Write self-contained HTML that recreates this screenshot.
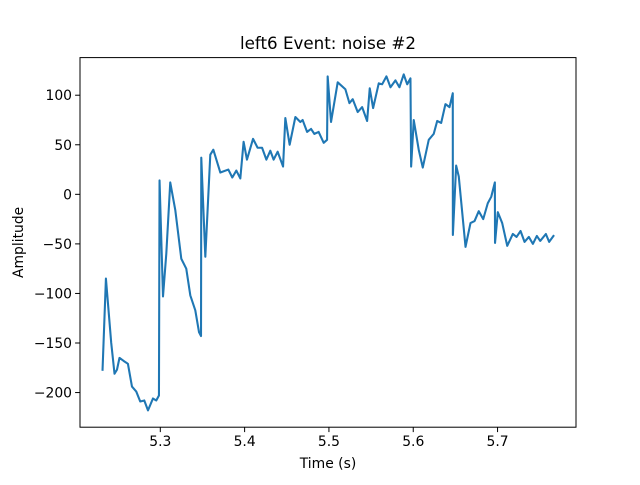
<!DOCTYPE html>
<html><head><meta charset="utf-8"><style>
html,body{margin:0;padding:0;background:#fff;}
svg text{font-family:"DejaVu Sans","Liberation Sans",sans-serif;fill:#000;}
</style></head><body>
<svg id="chart" width="640" height="480" viewBox="0 0 640 480" xmlns="http://www.w3.org/2000/svg">
<rect width="640" height="480" fill="#fff"/>
<g id="plot"></g>
</svg>
<script>
const times = [5.2315,5.2355,5.2418,5.2457,5.2486,5.2516,5.2564,5.2616,5.2664,5.2715,5.2762,5.2810,5.2854,5.2913,5.2952,5.2984,5.2991,5.3032,5.3071,5.3118,5.3178,5.3249,5.3308,5.3356,5.3415,5.3459,5.3483,5.3486,5.3534,5.3593,5.3629,5.3712,5.3807,5.3854,5.3902,5.3949,5.3988,5.4028,5.4100,5.4154,5.4207,5.4258,5.4305,5.4344,5.4392,5.4456,5.4483,5.4534,5.4602,5.4661,5.4688,5.4741,5.4788,5.4827,5.4878,5.4938,5.4978,5.4985,5.5025,5.5104,5.5195,5.5243,5.5282,5.5341,5.5394,5.5453,5.5484,5.5524,5.5591,5.5631,5.5682,5.5730,5.5789,5.5836,5.5887,5.5928,5.5967,5.5975,5.6006,5.6065,5.6113,5.6184,5.6243,5.6284,5.6331,5.6382,5.6430,5.6469,5.6470,5.6509,5.6540,5.6620,5.6679,5.6727,5.6777,5.6830,5.6884,5.6925,5.6968,5.6970,5.7003,5.7055,5.7115,5.7181,5.7225,5.7273,5.7320,5.7371,5.7419,5.7466,5.7506,5.7573,5.7612,5.7663];
const amplitudes = [-177,-85,-150,-181,-177,-165,-168,-171,-194,-199,-209,-208,-218,-206,-208,-203,14,-103,-60,12,-16,-65,-75,-102,-117,-139,-143,37,-63,40,45,22,25,17,24,16,53,35,56,47,47,35,44,35,43,28,77,50,78,73,75,63,66,61,63,52,55,119,73,113,106,92,96,83,88,74,107,87,112,111,119,108,115,108,121,111,117,28,75,45,27,55,61,74,72,91,88,102,-41,29,18,-53,-29,-27,-17,-25,-9,-2.5,12,-49,-18,-29,-52,-40,-43,-37,-48,-43,-50,-42,-47,-40,-48,-42];
const xTicks = [5.3,5.4,5.5,5.6,5.7];
const xTickLabels = ["5.3","5.4","5.5","5.6","5.7"];
const yTicks = [-200,-150,-100,-50,0,50,100];
const yTickLabels = ["\u2212200","\u2212150","\u2212100","\u221250","0","50","100"];

const L=80,R=576,T=57.6,B=427.2;
const tmin=Math.min(...times),tmax=Math.max(...times);
const vmin=Math.min(...amplitudes),vmax=Math.max(...amplitudes);
const x0=tmin-(tmax-tmin)*0.05,x1=tmax+(tmax-tmin)*0.05;
const y0=vmin-(vmax-vmin)*0.05,y1=vmax+(vmax-vmin)*0.05;
const sx=t=>L+(t-x0)/(x1-x0)*(R-L);
const sy=v=>B-(v-y0)/(y1-y0)*(B-T);
const NS="http://www.w3.org/2000/svg";
const g=document.getElementById('plot');
function mk(tag,attrs,text){const e=document.createElementNS(NS,tag);for(const k in attrs)e.setAttribute(k,attrs[k]);if(text!==undefined)e.textContent=text;g.appendChild(e);return e;}

const line=mk('polyline',{points:times.map((t,i)=>sx(t).toFixed(2)+','+sy(amplitudes[i]).toFixed(2)).join(' '),fill:'none',stroke:'#1f77b4','stroke-width':2.08,'stroke-linejoin':'round','stroke-linecap':'square'});



const frame=mk('rect',{x:L,y:T,width:R-L,height:B-T,fill:'none',stroke:'#000','stroke-width':1});



xTicks.forEach((t,i)=>{
  const X=sx(t);
  const tk=mk('line',{x1:X,x2:X,y1:B,y2:B+4.9,stroke:'#000','stroke-width':1});
  
  
  const lb=mk('text',{x:X,y:B+19,'font-size':13.9,'text-anchor':'middle'},xTickLabels[i]);
  
  
});
yTicks.forEach((v,i)=>{
  const Y=sy(v);
  const tk=mk('line',{x1:L-4.9,x2:L,y1:Y,y2:Y,stroke:'#000','stroke-width':1});
  
  
  const lb=mk('text',{x:L-8,y:Y+5,'font-size':13.9,'text-anchor':'end'},yTickLabels[i]);
  
  
});
const title=mk('text',{x:(L+R)/2,y:49,'font-size':16.7,'text-anchor':'middle'},'left6 Event: noise #2');


const xl=mk('text',{x:(L+R)/2,y:468,'font-size':13.9,'text-anchor':'middle'},'Time (s)');


const yl=mk('text',{x:0,y:0,'font-size':13.9,'text-anchor':'middle',transform:'translate(23,'+((T+B)/2)+') rotate(-90)'},'Amplitude');


</script>
</body></html>
